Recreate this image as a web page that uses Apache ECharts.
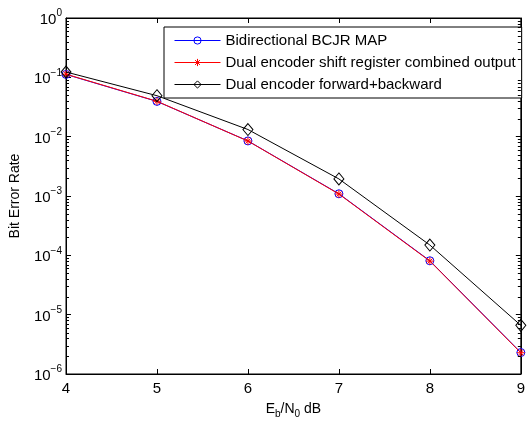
<!DOCTYPE html>
<html>
<head>
    <meta charset="utf-8">
    <title>BER vs Eb/N0</title>
    <style>
        html, body { margin: 0; padding: 0; background: #fff; }
        #chart { width: 528px; height: 424px; }
    </style>
</head>
<body>
    <div id="chart"></div>
    <script src="https://cdn.jsdelivr.net/npm/echarts@6/dist/echarts.min.js"></script>
    <script>
        // Eb/N0 (dB)
        var ebn0 = [4, 5, 6, 7, 8, 9];
        // bit error rates
        var berBcjr = [0.112, 0.0393, 0.00848, 0.00109, 8.1e-5, 2.3e-6];
        var berShift = [0.113, 0.0395, 0.00845, 0.00108, 8.0e-5, 2.28e-6];
        var berFwdBwd = [0.123, 0.049, 0.0132, 0.00194, 1.49e-4, 6.6e-6];

        var seriesNames = [
            'Bidirectional BCJR MAP',
            'Dual encoder shift register combined output',
            'Dual encoder forward+backward'
        ];

        var yMin = 1e-6, yMax = 1;
        var xMin = 4, xMax = 9;

        var font = 'Liberation Sans, Arial, Helvetica, sans-serif';
        var asterisk = 'path://M5,0L5,10M0,5L10,5M1.6,1.6L8.4,8.4M1.6,8.4L8.4,1.6';

        function pairs(ys) {
            return ebn0.map(function (x, i) { return [x, ys[i]]; });
        }

        function powLabel(v) {
            var e = Math.round(Math.log10(v));
            var s = e < 0 ? '\u2212' + (-e) : '' + e;
            return '{b|10}{s|' + s + '}';
        }

        var chart = echarts.init(document.getElementById('chart'));

        // minor log ticks (2..9 in each decade) on both sides of the box
        function minorTicks(params, api) {
            var children = [];
            var xl = api.coord([xMin, 1])[0];
            var xr = api.coord([xMax, 1])[0];
            for (var d = -6; d < 0; d++) {
                for (var k = 2; k <= 9; k++) {
                    var y = Math.round(api.coord([xMin, k * Math.pow(10, d)])[1]) + 0.5;
                    children.push({ type: 'line', shape: { x1: xl, y1: y, x2: xl + 3, y2: y },
                        style: { stroke: '#000', lineWidth: 1 } });
                    children.push({ type: 'line', shape: { x1: xr - 3, y1: y, x2: xr, y2: y },
                        style: { stroke: '#000', lineWidth: 1 } });
                }
            }
            return { type: 'group', children: children };
        }

        var tickLabelRich = {
            b: { fontSize: 15, fontFamily: font, color: '#000', verticalAlign: 'bottom' },
            s: { fontSize: 10, fontFamily: font, color: '#000', verticalAlign: 'bottom', padding: [0, 0, 9, 0] }
        };

        var option = {
            backgroundColor: '#fff',
            animation: false,
            grid: { left: 63, right: 1, top: 18, bottom: 46, containLabel: false,
                show: true, borderColor: '#000', borderWidth: 1 },
            legend: {
                data: seriesNames,
                orient: 'vertical',
                left: 164, top: 27,
                padding: [6, 6, 6, 10],
                itemGap: 7,
                itemWidth: 46, itemHeight: 9,
                backgroundColor: '#fff',
                borderColor: '#000', borderWidth: 1,
                lineStyle: { width: 1 },
                itemStyle: { borderWidth: 1 },
                textStyle: { fontSize: 15, lineHeight: 14, fontFamily: font, color: '#000' }
            },
            xAxis: [{
                type: 'value', min: xMin, max: xMax, interval: 1,
                name: 'E{sub|b}/N{sub|0} dB',
                nameLocation: 'middle', nameGap: 26,
                nameTextStyle: {
                    fontSize: 14, fontFamily: font, color: '#000',
                    rich: {
                        sub: { fontSize: 10, fontFamily: font, color: '#000', verticalAlign: 'top', padding: [9, 0, 0, 0] }
                    }
                },
                axisLine: { lineStyle: { color: '#000', width: 1 } },
                axisTick: { inside: true, length: 5, lineStyle: { color: '#000' } },
                axisLabel: { margin: 7, fontSize: 15, fontFamily: font, color: '#000',
                    alignMinLabel: 'center', alignMaxLabel: 'center' },
                splitLine: { show: false }
            }, {
                type: 'value', min: xMin, max: xMax, interval: 1, position: 'top',
                axisLine: { lineStyle: { color: '#000', width: 1 } },
                axisTick: { inside: true, length: 5, lineStyle: { color: '#000' } },
                axisLabel: { show: false },
                splitLine: { show: false }
            }],
            yAxis: [{
                type: 'log', logBase: 10, min: yMin, max: yMax, interval: 1,
                name: 'Bit Error Rate',
                nameLocation: 'middle', nameGap: 44,
                nameTextStyle: { fontSize: 14, fontFamily: font, color: '#000' },
                axisLine: { show: true, lineStyle: { color: '#000', width: 1 } },
                axisTick: { inside: true, length: 5, lineStyle: { color: '#000' } },
                axisLabel: { margin: 4, formatter: powLabel, rich: tickLabelRich },
                splitLine: { show: false },
                minorTick: { show: false }
            }, {
                type: 'log', logBase: 10, min: yMin, max: yMax, interval: 1, position: 'right',
                axisLine: { show: true, lineStyle: { color: '#000', width: 1 } },
                axisTick: { inside: true, length: 5, lineStyle: { color: '#000' } },
                axisLabel: { show: false },
                splitLine: { show: false }
            }],
            series: [{
                name: seriesNames[0],
                type: 'line',
                data: pairs(berBcjr),
                symbol: 'circle', symbolSize: 8,
                itemStyle: { color: 'rgba(0,0,0,0)', borderColor: '#0000ff', borderWidth: 1 },
                lineStyle: { color: '#0000ff', width: 1 },
                z: 3
            }, {
                name: seriesNames[1],
                type: 'line',
                data: pairs(berShift),
                symbol: asterisk, symbolSize: 8,
                itemStyle: { color: 'rgba(0,0,0,0)', borderColor: '#ff0000', borderWidth: 1 },
                lineStyle: { color: '#ff0000', width: 1 },
                z: 4
            }, {
                name: seriesNames[2],
                type: 'line',
                data: pairs(berFwdBwd),
                symbol: 'diamond', symbolSize: [10, 12],
                itemStyle: { color: 'rgba(0,0,0,0)', borderColor: '#000', borderWidth: 1 },
                lineStyle: { color: '#000', width: 1 },
                z: 5
            }, {
                type: 'custom',
                silent: true,
                clip: false,
                renderItem: minorTicks,
                data: [[xMin, 0.5]],
                z: 6
            }]
        };

        chart.setOption(option);
        window.addEventListener('resize', function () {
            chart.resize();
        });
    </script>
</body>
</html>
